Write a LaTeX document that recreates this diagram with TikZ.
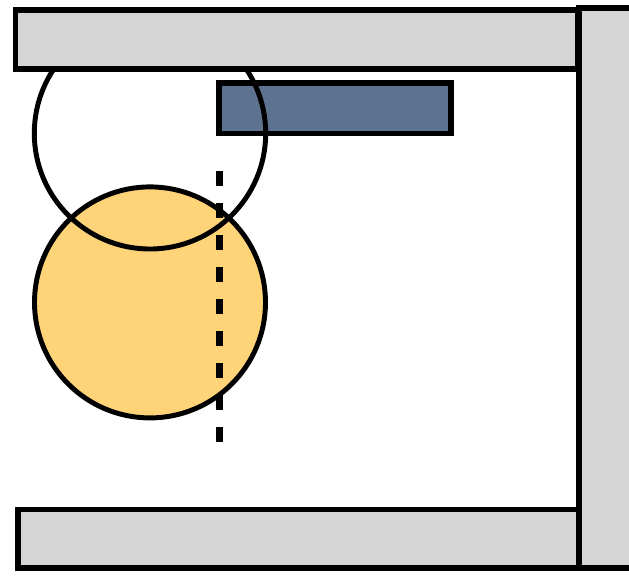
\documentclass[tikz,border=0pt]{standalone}
\definecolor{bargray}{RGB}{213,213,213}
\definecolor{slateblue}{RGB}{93,114,143}
\definecolor{sunorange}{RGB}{255,212,121}
\tikzset{
  every node/.style={outer sep=0pt, inner sep=0pt},
  bar/.style={draw=black, fill=bargray, line width=4.3pt},
  ring/.style={draw=black, line width=3.7pt},
}
\begin{document}
\begin{tikzpicture}[x=0.75pt,y=-0.75pt]
\useasboundingbox (0,0) rectangle (629,576);
\clip (0,0) rectangle (629,576);
\fill[white] (0,0) rectangle (629,576);
\node[draw=black, fill=slateblue, line width=4.3pt, minimum width=232*0.75pt, minimum height=50.5*0.75pt, anchor=north west] (blue) at (218.7,83) {};
\node[ring, fill=sunorange, circle, minimum size=231*0.75pt] (sun) at (150,302.4) {};
\node[ring, circle, minimum size=231.4*0.75pt] (ring) at (150,133.3) {};
\coordinate (dtop) at (219,171);
\coordinate (dbot) at (219,442);
\draw[line width=5.25pt, dash pattern=on 11.25pt off 12.75pt] (dtop) -- (dbot);
\node[bar, minimum width=562*0.75pt, minimum height=58.4*0.75pt, anchor=north west] (topbar) at (15.5,10.3) {};
\node[bar, minimum width=560.2*0.75pt, minimum height=58.5*0.75pt, anchor=north west] (botbar) at (18.3,509.5) {};
\node[bar, minimum width=70*0.75pt, minimum height=560.5*0.75pt, anchor=north west] (rightbar) at (579,7.7) {};
\end{tikzpicture}
\end{document}
